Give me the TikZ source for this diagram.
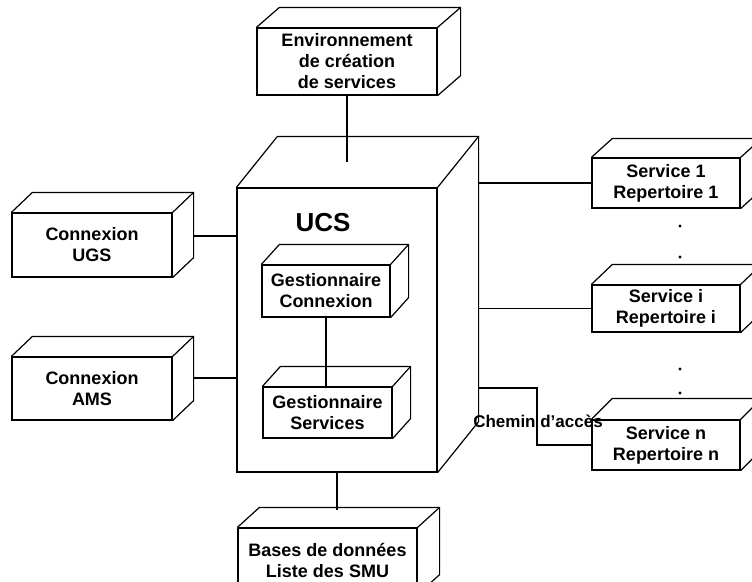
\documentclass[tikz,border=0pt]{standalone}
\usepackage{fontspec}
\setmainfont{Liberation Sans}
\usetikzlibrary{positioning}

\tikzset{
  box/.style={draw, line width=1.2pt, inner sep=0pt, align=center,
    font=\bfseries\fontsize{18}{21}\selectfont},
  link/.style={line width=1.8pt},
  face/.style={line width=1.2pt, line join=round}
}

\begin{document}
\begin{tikzpicture}[x=1pt, y=-1pt]
  \useasboundingbox (0,0) rectangle (752,581);

  % boites (face avant)
  \node[box, minimum width=180, minimum height=67] (env) at (347,61.5) {Environnement\\de cr\'eation\\de services};
  \node[box, minimum width=200, minimum height=284] (ucs) at (337,330) {};
  \node[font=\bfseries\fontsize{26}{28}\selectfont] (ucslabel) at (323,223) {UCS};
  \node[box, minimum width=128, minimum height=52] (gc) at (326,291) {Gestionnaire\\Connexion};
  \node[box, minimum width=129, minimum height=51] (gs) at (327.5,412.5) {Gestionnaire\\Services};
  \node[box, minimum width=160, minimum height=64] (ugs) at (92,245) {Connexion\\UGS};
  \node[box, minimum width=160, minimum height=63] (ams) at (92,388.5) {Connexion\\AMS};
  \node[box, minimum width=148, minimum height=50] (s1) at (666,183) {Service 1\\Repertoire 1};
  \node[box, minimum width=148, minimum height=47] (si) at (666,308.5) {Service i\\Repertoire i};
  \node[box, minimum width=148, minimum height=50] (sn) at (666,445) {Service n\\Repertoire n};
  \node[box, minimum width=179, minimum height=66, text depth=2pt] (bdd) at (327.5,561) {Bases de donn\'ees\\Liste des SMU};

  % faces du dessus et de cote
  \foreach \n/\dx/\dy in {env/23/-20, ucs/41/-51, gc/18/-20, gs/18/-20, ugs/21/-20, ams/21/-20, s1/21/-19, si/21/-20, sn/21/-21, bdd/22/-20}
  {
    \draw[face] (\n.north west) -- ++(\dx,\dy) -- ([shift={(\dx,\dy)}]\n.north east)
      -- ([shift={(\dx,\dy)}]\n.south east) -- (\n.south east);
    \draw[face] (\n.north east) -- ++(\dx,\dy);
  }

  % liaisons
  \coordinate (ucstop) at (347,162);
  \coordinate (ugsback) at (193,236);
  \coordinate (amsback) at (193,378);
  \coordinate (ucsback) at (478,388);
  \coordinate (bddtop) at (338,510);
  \draw[link] (env.south) -- (ucstop);
  \draw[link] (ugsback) -- (ugsback -| ucs.west);
  \draw[link] (amsback) -- (amsback -| ucs.west);
  \draw[link] (s1.west -| ucsback) -- (s1.west);
  \draw[link] (si.west -| ucsback) -- (si.west);
  \draw[link] (ucsback) -- ++(59,0) |- (sn.west);
  \draw[link] (gc.south) -- (gc.south |- gs.north);
  \draw[link] (ucs.south) -- (ucs.south |- bddtop);

  \node[font=\bfseries\fontsize{17}{21}\selectfont, inner sep=0pt] (chemin) at (538,421) {Chemin d'acc\`es};

  % points de suspension
  \foreach \y in {226,257,369,393}
    \fill (680,\y) circle (1.6);
\end{tikzpicture}
\end{document}
